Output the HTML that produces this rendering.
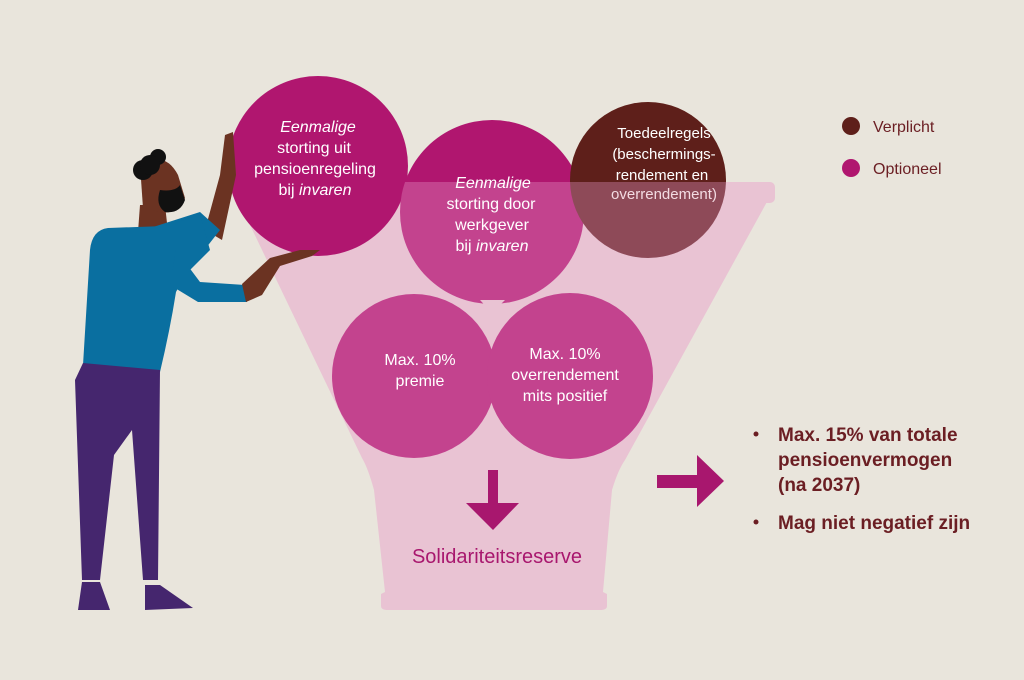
<!DOCTYPE html>
<html><head><meta charset="utf-8"><style>
html,body{margin:0;padding:0;background:#e9e5dc;}
svg{display:block;}
text{font-family:"Liberation Sans",sans-serif;}
</style></head><body>
<svg width="1024" height="680" viewBox="0 0 1024 680" xmlns="http://www.w3.org/2000/svg">
<rect width="1024" height="680" fill="#e9e5dc"/>
<defs>
<clipPath id="above"><rect x="0" y="0" width="1024" height="182"/></clipPath>
<clipPath id="below"><rect x="0" y="182" width="1024" height="500"/></clipPath>
</defs>
<!-- funnel -->
<path d="M238,200 L768,200 L625,460 Q618,470 612,490 L603,592 L607,594 L607,606 Q607,610 600,610 L388,610 Q381,610 381,606 L381,594 L385,592 L374,490 Q368,468 362,458 Z" fill="#e9c3d3"/>
<rect x="405" y="182" width="370" height="21" rx="5" fill="#e9c3d3"/>
<!-- circles -->
<circle cx="318" cy="166" r="90" fill="#b0166f"/>
<circle cx="492" cy="212" r="92" fill="#c3438e" clip-path="url(#below)"/>
<circle cx="492" cy="212" r="92" fill="#b0166f" clip-path="url(#above)"/>
<circle cx="648" cy="180" r="78" fill="#8e4a58" clip-path="url(#below)"/>
<circle cx="648" cy="180" r="78" fill="#5e1f1a" clip-path="url(#above)"/>
<circle cx="414" cy="376" r="82" fill="#c3438e"/>
<circle cx="570" cy="376" r="83" fill="#c3438e"/>
<path d="M480,300 L505,300 L492,313 Z" fill="#e9c3d3"/>
<!-- texts in circles -->
<g fill="#fff" font-size="16" text-anchor="middle">
<text x="318" y="132" font-style="italic">Eenmalige</text>
<text x="314" y="153">storting uit</text>
<text x="315" y="174">pensioenregeling</text>
<text x="315" y="195">bij <tspan font-style="italic">invaren</tspan></text>
<text x="493" y="188" font-style="italic">Eenmalige</text>
<text x="491" y="209">storting door</text>
<text x="492" y="230">werkgever</text>
<text x="492" y="251">bij <tspan font-style="italic">invaren</tspan></text>
<g font-size="15">
<text x="664" y="138">Toedeelregels</text>
<text x="664" y="159">(beschermings-</text>
<text x="662" y="180">rendement en</text>
<text x="664" y="199" fill="#f3dbe2">overrendement)</text>
</g>
<text x="420" y="365">Max. 10%</text>
<text x="420" y="386">premie</text>
<text x="565" y="359">Max. 10%</text>
<text x="565" y="380">overrendement</text>
<text x="565" y="401">mits positief</text>
</g>
<!-- down arrow -->
<rect x="488" y="470" width="10" height="34" fill="#a8176e"/>
<path d="M466,503 L519,503 L493,530 Z" fill="#a8176e"/>
<text x="497" y="563" font-size="20" fill="#a8176e" text-anchor="middle">Solidariteitsreserve</text>
<!-- right arrow -->
<rect x="657" y="475" width="41" height="13" fill="#a8176e"/>
<path d="M697,455 L697,507 L724,481 Z" fill="#a8176e"/>
<!-- bullets -->
<g fill="#6b1e23" font-size="19" font-weight="bold">
<circle cx="756" cy="434" r="2.5"/>
<text x="778" y="441">Max. 15% van totale</text>
<text x="778" y="466">pensioenvermogen</text>
<text x="778" y="491">(na 2037)</text>
<circle cx="756" cy="522" r="2.5"/>
<text x="778" y="529">Mag niet negatief zijn</text>
</g>
<!-- legend -->
<circle cx="851" cy="126" r="9" fill="#5e1f1a"/>
<circle cx="851" cy="168" r="9" fill="#b0166f"/>
<text x="873" y="132" font-size="16" fill="#6b1e23">Verplicht</text>
<text x="873" y="174" font-size="16" fill="#6b1e23">Optioneel</text>
<!-- person -->
<path d="M205,230 L220,175 L225,135 L233,132 L236,175 L222,240 Z" fill="#6b3322"/>
<path d="M140,205 L165,205 L168,232 L138,232 Z" fill="#6b3322"/>
<path d="M140,165 Q165,150 178,175 L185,198 Q178,215 160,212 L143,208 Z" fill="#6b3322"/>
<path d="M160,190 Q175,192 180,185 L185,200 Q180,214 165,212 Q155,205 160,190 Z" fill="#111"/>
<circle cx="158" cy="157" r="8" fill="#111"/>
<circle cx="143" cy="170" r="10" fill="#111"/>
<circle cx="150" cy="165" r="10" fill="#111"/>
<path d="M150,228 L200,212 L220,230 L195,262 Z" fill="#0a6fa0"/>
<path d="M108,228 L165,226 L200,215 L210,250 L185,275 L176,292 Q170,330 160,372 L83,365 L90,250 Q92,230 108,228 Z" fill="#0a6fa0"/>
<path d="M176,250 L200,282 L245,285 L247,302 L198,302 L170,285 Z" fill="#0a6fa0"/>
<path d="M242,284 L270,258 L300,250 L320,250 L312,256 L280,266 L262,295 L246,302 Z" fill="#6b3322"/>
<path d="M83,363 L160,370 L158,580 L143,580 L132,430 L114,455 L100,580 L82,580 L75,380 Z" fill="#45266e"/>
<path d="M82,582 L100,582 L110,610 L78,610 Z" fill="#45266e"/>
<path d="M145,585 L160,585 L193,608 L145,610 Z" fill="#45266e"/>
</svg>
</body></html>
